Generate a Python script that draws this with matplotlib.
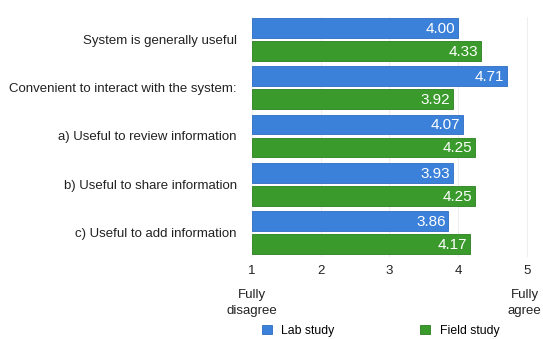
import matplotlib
matplotlib.use("Agg")
import matplotlib.pyplot as plt
import numpy as np

categories = ["System is generally useful",
              "Convenient to interact with the system:",
              "a) Useful to review information",
              "b) Useful to share information",
              "c) Useful to add information"]
lab = [4.00, 4.71, 4.07, 3.93, 3.86]
field = [4.33, 3.92, 4.25, 4.25, 4.17]
ticks = [1, 2, 3, 4, 5]
series_names = ["Lab study", "Field study"]

plt.rcParams['font.family'] = ['Liberation Sans', 'DejaVu Sans']
fig = plt.figure(figsize=(5.43, 3.39), dpi=100)
ax = fig.add_axes([0.464, 0.242, 0.508, 0.708])

blue = "#3b80d9"
green = "#3a9a2c"
y = np.arange(len(categories))
h = 0.41
off = 0.237
left = ticks[0]
b1 = ax.barh(y - off, np.array(lab) - left, left=left, height=h, color=blue,
             edgecolor="#2d6cc0", linewidth=0.6, label=series_names[0], zorder=3)
b2 = ax.barh(y + off, np.array(field) - left, left=left, height=h, color=green,
             edgecolor="#2a7f1f", linewidth=0.6, label=series_names[1], zorder=3)
for yy, v in zip(y - off, lab):
    ax.text(v - 0.04, yy + 0.02, f"{v:.2f}", color="white", ha="right", va="center", fontsize=11, zorder=4)
for yy, v in zip(y + off, field):
    ax.text(v - 0.04, yy + 0.02, f"{v:.2f}", color="white", ha="right", va="center", fontsize=11, zorder=4)

ax.set_xlim(1, 5.015)
ax.set_ylim(4.5, -0.46)
ax.set_xticks(ticks)
ax.set_xticklabels([str(t) for t in ticks], fontsize=9.5, color="#222222")
ax.set_yticks(y)
ax.set_yticklabels(categories, fontsize=9.5, color="#222222")
ax.tick_params(axis='y', length=0, pad=11)
ax.tick_params(axis='x', length=0, pad=6)
for s in ax.spines.values():
    s.set_visible(False)
ax.grid(axis='x', color="#eeeeee", linewidth=0.8, zorder=0)

ax.text(1, -0.135, "Fully\ndisagree", transform=ax.get_xaxis_transform(), ha="center", va="top",
        fontsize=9.5, color="#222222", linespacing=1.45)
ax.text(4.97, -0.135, "Fully\nagree", transform=ax.get_xaxis_transform(), ha="center", va="top",
        fontsize=9.5, color="#222222", linespacing=1.45)

fig.legend(handles=[b1, b2], labels=series_names, loc="center", ncol=2,
           bbox_to_anchor=(0.701, 0.024), frameon=False, fontsize=8.8,
           handlelength=0.8, handleheight=0.8, columnspacing=7.0, handletextpad=0.8)

fig.savefig("out.png", dpi=100)
